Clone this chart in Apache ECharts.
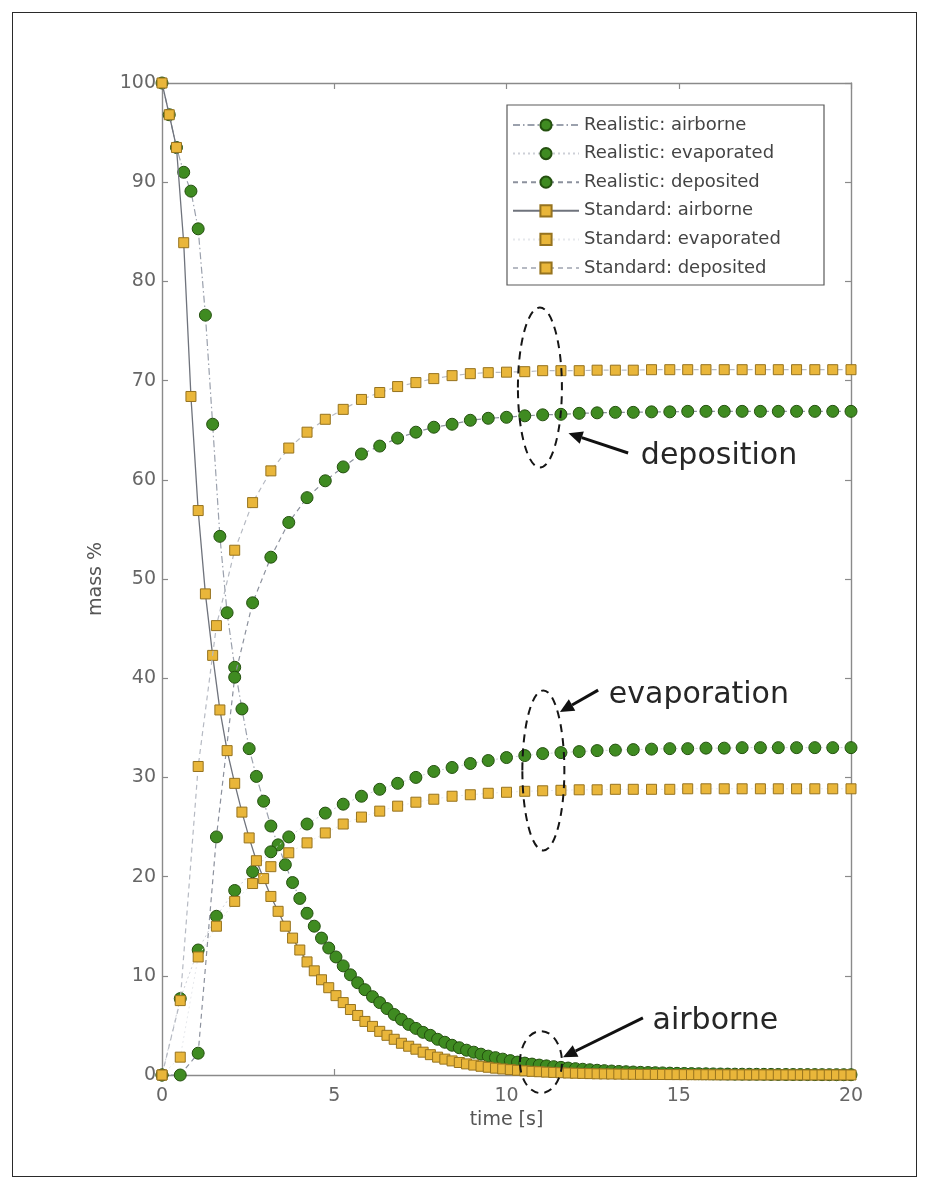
<!DOCTYPE html>
<html>
<head>
<meta charset="utf-8">
<script src="https://cdn.jsdelivr.net/npm/echarts@6/dist/echarts.min.js"></script>
<style>
  html, body { margin: 0; padding: 0; background: #fff; }
  #frame { position: absolute; left: 12px; top: 12px; width: 903px; height: 1163px; border: 1.5px solid #2a2a2a; }
  #chart { position: absolute; left: 0; top: 0; width: 930px; height: 1189px; }
</style>
</head>
<body>
<div id="frame"></div>
<div id="chart"></div>
<script>
// Time grid for the airborne curves (s)
const tAirborne = [
  0, 0.21, 0.42, 0.63, 0.84, 1.05, 1.26, 1.47, 1.68, 1.89,
  2.11, 2.32, 2.53, 2.74, 2.95, 3.16, 3.37, 3.58, 3.79, 4.00,
  4.21, 4.42, 4.63, 4.84, 5.05, 5.26, 5.47, 5.68, 5.89, 6.11,
  6.32, 6.53, 6.74, 6.95, 7.16, 7.37, 7.58, 7.79, 8.00, 8.21,
  8.42, 8.63, 8.84, 9.05, 9.26, 9.47, 9.68, 9.89, 10.11, 10.32,
  10.53, 10.74, 10.95, 11.16, 11.37, 11.58, 11.79, 12.00, 12.21, 12.42,
  12.63, 12.84, 13.05, 13.26, 13.47, 13.68, 13.89, 14.11, 14.32, 14.53,
  14.74, 14.95, 15.16, 15.37, 15.58, 15.79, 16.00, 16.21, 16.42, 16.63,
  16.84, 17.05, 17.26, 17.47, 17.68, 17.89, 18.11, 18.32, 18.53, 18.74,
  18.95, 19.16, 19.37, 19.58, 19.79, 20.00
];

// Time grid for the evaporated / deposited curves (s)
const tFate = [
  0, 0.53, 1.05, 1.58, 2.11, 2.63, 3.16, 3.68, 4.21, 4.74,
  5.26, 5.79, 6.32, 6.84, 7.37, 7.89, 8.42, 8.95, 9.47, 10.00,
  10.53, 11.05, 11.58, 12.11, 12.63, 13.16, 13.68, 14.21, 14.74, 15.26,
  15.79, 16.32, 16.84, 17.37, 17.89, 18.42, 18.95, 19.47, 20.00
];

// mass % — realistic model
const realisticAirborne = [
  100, 96.8, 93.5, 91.0, 89.1, 85.3, 76.6, 65.6, 54.3, 46.6,
  41.1, 36.9, 32.9, 30.1, 27.6, 25.1, 23.2, 21.2, 19.4, 17.8,
  16.3, 15.0, 13.8, 12.8, 11.9, 11.0, 10.1, 9.3, 8.6, 7.9,
  7.3, 6.7, 6.1, 5.6, 5.1, 4.7, 4.3, 4.0, 3.6, 3.3,
  3.0, 2.75, 2.5, 2.3, 2.1, 1.9, 1.75, 1.6, 1.45, 1.3,
  1.2, 1.1, 1.0, 0.92, 0.84, 0.77, 0.7, 0.64, 0.58, 0.53,
  0.48, 0.44, 0.4, 0.36, 0.33, 0.3, 0.27, 0.25, 0.23, 0.21,
  0.19, 0.17, 0.155, 0.14, 0.13, 0.12, 0.11, 0.1, 0.09, 0.085,
  0.08, 0.075, 0.07, 0.065, 0.06, 0.055, 0.05, 0.047, 0.044, 0.041,
  0.038, 0.035, 0.033, 0.031, 0.029, 0.027
];
const realisticEvaporated = [
  0, 7.7, 12.6, 16.0, 18.6, 20.5, 22.5, 24.0, 25.3, 26.4,
  27.3, 28.1, 28.8, 29.4, 30.0, 30.6, 31.0, 31.4, 31.7, 32.0,
  32.2, 32.4, 32.5, 32.6, 32.7, 32.75, 32.8, 32.85, 32.9, 32.9,
  32.95, 32.95, 33.0, 33.0, 33.0, 33.0, 33.0, 33.0, 33.0
];
const realisticDeposited = [
  0, 0, 2.2, 24.0, 40.1, 47.6, 52.2, 55.7, 58.2, 59.9,
  61.3, 62.6, 63.4, 64.2, 64.8, 65.3, 65.6, 66.0, 66.2, 66.3,
  66.45, 66.55, 66.6, 66.7, 66.75, 66.8, 66.8, 66.85, 66.85, 66.9,
  66.9, 66.9, 66.9, 66.9, 66.9, 66.9, 66.9, 66.9, 66.9
];

// mass % — standard model
const standardAirborne = [
  100, 96.8, 93.5, 83.9, 68.4, 56.9, 48.5, 42.3, 36.8, 32.7,
  29.4, 26.5, 23.9, 21.6, 19.8, 18.0, 16.5, 15.0, 13.8, 12.6,
  11.4, 10.5, 9.6, 8.8, 8.0, 7.3, 6.6, 6.0, 5.4, 4.9,
  4.4, 4.0, 3.6, 3.2, 2.9, 2.6, 2.3, 2.05, 1.8, 1.6,
  1.42, 1.26, 1.12, 1.0, 0.88, 0.78, 0.69, 0.61, 0.54, 0.48,
  0.42, 0.37, 0.33, 0.29, 0.26, 0.23, 0.2, 0.18, 0.16, 0.14,
  0.12, 0.11, 0.1, 0.09, 0.08, 0.07, 0.065, 0.06, 0.055, 0.05,
  0.045, 0.04, 0.037, 0.034, 0.031, 0.028, 0.025, 0.023, 0.021, 0.019,
  0.017, 0.015, 0.014, 0.013, 0.012, 0.011, 0.01, 0.009, 0.008, 0.007,
  0.006, 0.006, 0.005, 0.005, 0.004, 0.004
];
const standardEvaporated = [
  0, 1.8, 11.9, 15.0, 17.5, 19.3, 21.0, 22.4, 23.4, 24.4,
  25.3, 26.0, 26.6, 27.1, 27.5, 27.8, 28.1, 28.25, 28.4, 28.5,
  28.6, 28.65, 28.7, 28.75, 28.75, 28.8, 28.8, 28.8, 28.8, 28.85,
  28.85, 28.85, 28.85, 28.85, 28.85, 28.85, 28.85, 28.85, 28.85
];
const standardDeposited = [
  0, 7.5, 31.1, 45.3, 52.9, 57.7, 60.9, 63.2, 64.8, 66.1,
  67.1, 68.1, 68.8, 69.4, 69.8, 70.2, 70.5, 70.7, 70.8, 70.85,
  70.9, 71.0, 71.0, 71.0, 71.05, 71.05, 71.05, 71.1, 71.1, 71.1,
  71.1, 71.1, 71.1, 71.1, 71.1, 71.1, 71.1, 71.1, 71.1
];

const seriesNames = [
  'Realistic: airborne', 'Realistic: evaporated', 'Realistic: deposited',
  'Standard: airborne', 'Standard: evaporated', 'Standard: deposited'
];
const xTicks = { min: 0, max: 20, interval: 5 };
const yTicks = { min: 0, max: 100, interval: 10 };
const xTitle = 'time [s]';
const yTitle = 'mass %';

// Callout labels, positioned in data coordinates
const callouts = [
  { text: 'deposition',  ellipse: [10.97, 69.3], rx: 22, ry: 80, tail: [13.53, 62.7], head: [11.80, 64.7], label: [13.90, 62.4] },
  { text: 'evaporation', ellipse: [11.07, 30.7], rx: 21, ry: 80, tail: [12.66, 38.8], head: [11.55, 36.6], label: [12.97, 38.3] },
  { text: 'airborne',    ellipse: [11.00, 1.3],  rx: 21, ry: 31, tail: [13.96, 5.75], head: [11.64, 1.8],  label: [14.24, 5.4] }
];

const FONT = '"DejaVu Sans", Lato, sans-serif';
const GREEN = '#3f8b21', GREEN_EDGE = '#24500f';
const GOLD = '#e9b63a', GOLD_EDGE = '#96731f';
const AXIS = '#8a8a8a';

const pairs = (t, v) => t.map((x, i) => [x, v[i]]);

const circle = { symbol: 'circle', symbolSize: 12, itemStyle: { color: GREEN, borderColor: GREEN_EDGE, borderWidth: 1 } };
const square = { symbol: 'rect', symbolSize: 10, itemStyle: { color: GOLD, borderColor: GOLD_EDGE, borderWidth: 1 } };

const seriesDefs = [
  { data: pairs(tAirborne, realisticAirborne),   mark: circle, line: { color: '#9ba1ad', width: 1.2, type: [7, 3, 1.5, 3] } },
  { data: pairs(tFate, realisticEvaporated),     mark: circle, line: { color: '#cdd0d7', width: 1, type: [2, 3] } },
  { data: pairs(tFate, realisticDeposited),      mark: circle, line: { color: '#8c919d', width: 1.2, type: [5, 4] } },
  { data: pairs(tAirborne, standardAirborne),    mark: square, line: { color: '#6f737c', width: 1.3, type: 'solid' } },
  { data: pairs(tFate, standardEvaporated),      mark: square, line: { color: '#e6e8ec', width: 1, type: [2, 3] } },
  { data: pairs(tFate, standardDeposited),       mark: square, line: { color: '#b6bac3', width: 1.2, type: [5, 4] } }
];

const chart = echarts.init(document.getElementById('chart'), null, { renderer: 'canvas' });

const axisCommon = {
  type: 'value',
  axisLine: { show: true, onZero: false, lineStyle: { color: AXIS, width: 1.4 } },
  axisTick: { show: true, inside: true, length: 6, lineStyle: { color: AXIS, width: 1.2 } },
  splitLine: { show: false }
};

chart.setOption({
  animation: false,
  backgroundColor: 'transparent',
  textStyle: { fontFamily: FONT },
  grid: { left: 162, right: 79, top: 83, bottom: 114, containLabel: false },
  xAxis: [
    Object.assign({}, axisCommon, xTicks, {
      position: 'bottom',
      name: xTitle, nameLocation: 'middle', nameGap: 36,
      nameTextStyle: { fontFamily: FONT, fontSize: 19, color: '#555' },
      axisLabel: { margin: 12, fontFamily: FONT, fontSize: 19, color: '#666' }
    }),
    Object.assign({}, axisCommon, xTicks, { position: 'top', axisLabel: { show: false } })
  ],
  yAxis: [
    Object.assign({}, axisCommon, yTicks, {
      position: 'left',
      name: yTitle, nameLocation: 'middle', nameGap: 56,
      nameTextStyle: { fontFamily: FONT, fontSize: 19, color: '#555' },
      axisLabel: { margin: 6, fontFamily: FONT, fontSize: 19, color: '#666' }
    }),
    Object.assign({}, axisCommon, yTicks, { position: 'right', axisLabel: { show: false } })
  ],
  legend: {
    orient: 'vertical',
    left: 507, top: 105,
    padding: [10, 4, 7, 5],
    itemWidth: 66, itemHeight: 14, itemGap: 8.6,
    backgroundColor: '#fff',
    borderColor: '#5a5a5a', borderWidth: 1.2,
    textStyle: { fontFamily: FONT, fontSize: 18, lineHeight: 20, color: '#444', width: 236 },
    data: seriesNames
  },
  series: seriesDefs.map((d, i) => Object.assign({
    name: seriesNames[i],
    type: 'line',
    data: d.data,
    clip: false,
    silent: true,
    showAllSymbol: true,
    lineStyle: d.line,
    emphasis: { disabled: true },
    z: 2 + i
  }, d.mark))
});

// Dashed ellipses, arrows and captions drawn on top of the plot
function toPx(p) { return chart.convertToPixel({ xAxisIndex: 0, yAxisIndex: 0 }, p); }
const graphics = [];
callouts.forEach(c => {
  const e = toPx(c.ellipse);
  graphics.push({
    type: 'ellipse', silent: true, z: 100,
    shape: { cx: e[0], cy: e[1], rx: c.rx, ry: c.ry },
    style: { fill: null, stroke: '#151515', lineWidth: 2, lineDash: [8, 6] }
  });
  const a = toPx(c.tail), b = toPx(c.head);
  const dx = b[0] - a[0], dy = b[1] - a[1];
  const len = Math.hypot(dx, dy), ux = dx / len, uy = dy / len;
  const headLen = 14, headHalf = 6.5;
  const bx = b[0] - ux * headLen, by = b[1] - uy * headLen;
  graphics.push({
    type: 'line', silent: true, z: 100,
    shape: { x1: a[0], y1: a[1], x2: bx, y2: by },
    style: { stroke: '#111', lineWidth: 3 }
  });
  graphics.push({
    type: 'polygon', silent: true, z: 100,
    shape: { points: [[b[0], b[1]], [bx - uy * headHalf, by + ux * headHalf], [bx + uy * headHalf, by - ux * headHalf]] },
    style: { fill: '#111' }
  });
  const t = toPx(c.label);
  graphics.push({
    type: 'text', silent: true, z: 100, x: t[0], y: t[1],
    style: { text: c.text, font: '30px ' + FONT, fill: '#262626', align: 'left', verticalAlign: 'middle' }
  });
});
chart.setOption({ graphic: graphics });
</script>
</body>
</html>
